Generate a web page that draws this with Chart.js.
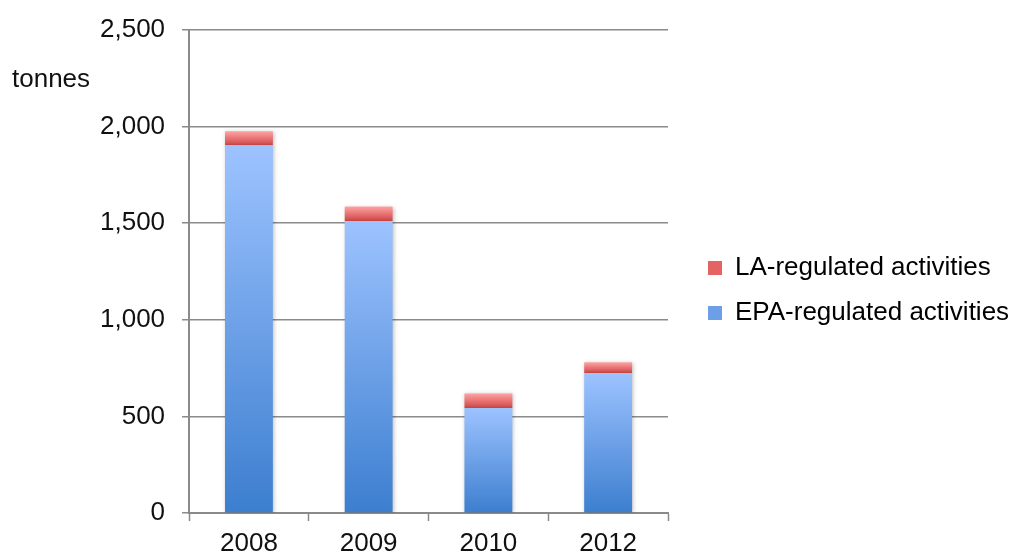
<!DOCTYPE html>
<html>
<head>
<meta charset="utf-8">
<script src="https://cdn.jsdelivr.net/npm/chart.js@4"></script>
<style>
  body { margin: 0; background: #fff; }
  #wrap { width: 1016px; height: 553px; }
</style>
</head>
<body>
<div id="wrap"><canvas id="wasteChart" width="1016" height="553"></canvas></div>
<script>
const years = ['2008', '2009', '2010', '2012'];
const epaTonnes = [1903, 1512, 543, 725];
const laTonnes = [73, 74, 76, 55];
const yTicks = [0, 500, 1000, 1500, 2000, 2500];

const fontFamily = '"Liberation Sans", Arial, Helvetica, sans-serif';
const gridGray = '#8a8a8a';

// vertical gradient per bar, from the bar's own top to its bottom
function barGradient(ctx, topColor, bottomColor) {
    const chart = ctx.chart;
    if (!chart.chartArea || ctx.type !== 'data') return bottomColor;
    const y = chart.scales.y;
    const i = ctx.dataIndex;
    let low = 0, high;
    if (ctx.datasetIndex === 0) {
        high = epaTonnes[i];
    } else {
        low = epaTonnes[i];
        high = epaTonnes[i] + laTonnes[i];
    }
    const top = y.getPixelForValue(high);
    const bottom = y.getPixelForValue(low);
    const g = chart.ctx.createLinearGradient(0, top, 0, bottom);
    g.addColorStop(0, topColor);
    g.addColorStop(1, bottomColor);
    return g;
}

const unitLabel = {
    id: 'unitLabel',
    afterDraw(chart) {
        const c = chart.ctx;
        c.save();
        c.font = '26px ' + fontFamily;
        c.fillStyle = '#111';
        c.textAlign = 'left';
        c.textBaseline = 'middle';
        c.fillText('tonnes', 12, 80);
        c.restore();
    }
};

const barShadow = {
    id: 'barShadow',
    beforeDatasetsDraw(chart) {
        const c = chart.ctx;
        c.save();
        c.shadowColor = 'rgba(0,0,0,0.25)';
        c.shadowBlur = 4;
        c.shadowOffsetX = 1;
        c.shadowOffsetY = 1;
    },
    afterDatasetsDraw(chart) {
        chart.ctx.restore();
    }
};

// the layout caps a right legend at a quarter of the width; give it the room it needs
const legendRoom = {
    id: 'legendRoom',
    afterInit(chart) {
        const lg = chart.legend;
        const orig = lg.update.bind(lg);
        lg.update = function (maxW, maxH, margins) {
            orig(1000, maxH, margins);
            this.width = 348;
        };
    },
    beforeDraw(chart) {
        const lg = chart.legend;
        lg.left = chart.chartArea.right + 21;
        lg.right = lg.left + 327;
        lg.top = chart.chartArea.top + 19;
        lg.bottom = chart.chartArea.bottom + 19;
    }
};

new Chart(document.getElementById('wasteChart'), {
    type: 'bar',
    data: {
        labels: years,
        datasets: [{
            label: 'EPA-regulated activities',
            data: epaTonnes,
            backgroundColor: ctx => barGradient(ctx, '#9dc3ff', '#3c7ecf'),
            barPercentage: 0.4,
            categoryPercentage: 1
        }, {
            label: 'LA-regulated activities',
            data: laTonnes,
            backgroundColor: ctx => barGradient(ctx, '#ffa3a3', '#d04646'),
            barPercentage: 0.4,
            categoryPercentage: 1
        }]
    },
    options: {
        responsive: false,
        animation: false,
        layout: {
            padding: { left: 83, top: 12, right: 0, bottom: -14 }
        },
        scales: {
            x: {
                stacked: true,
                grid: {
                    offset: true,
                    drawOnChartArea: false,
                    drawTicks: true,
                    tickLength: 8,
                    tickColor: gridGray,
                    tickWidth: 1.5
                },
                border: { color: gridGray, width: 2 },
                ticks: {
                    color: '#111',
                    font: { family: fontFamily, size: 26, lineHeight: 1 },
                    padding: 10
                }
            },
            y: {
                stacked: true,
                min: 0,
                max: 2500,
                afterBuildTicks(axis) {
                    axis.ticks = yTicks.map(v => ({ value: v }));
                },
                grid: {
                    color: gridGray,
                    lineWidth: 1.5,
                    tickLength: 7,
                    tickColor: gridGray
                },
                border: { color: gridGray, width: 2 },
                ticks: {
                    color: '#111',
                    font: { family: fontFamily, size: 26, lineHeight: 1 },
                    padding: 17,
                    callback: v => v.toLocaleString('en-US')
                }
            }
        },
        plugins: {
            legend: {
                position: 'right',
                reverse: true,
                labels: {
                    color: '#111',
                    font: { family: fontFamily, size: 26 },
                    boxWidth: 14,
                    boxHeight: 14,
                    padding: 19,
                    generateLabels(chart) {
                        const cols = ['#6d9fe6', '#e46464'];
                        return chart.data.datasets.map((ds, i) => ({
                            text: ds.label,
                            fillStyle: cols[i],
                            strokeStyle: cols[i],
                            lineWidth: 0,
                            datasetIndex: i,
                            hidden: false
                        }));
                    }
                }
            },
            tooltip: { enabled: false }
        }
    },
    plugins: [unitLabel, barShadow, legendRoom]
});
</script>
</body>
</html>
